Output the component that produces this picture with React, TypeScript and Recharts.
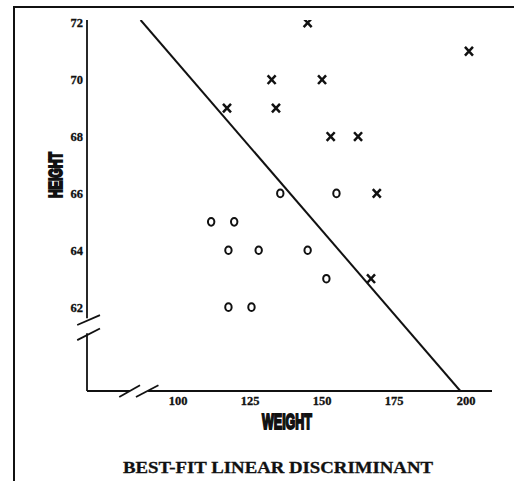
import {
  ScatterChart,
  Scatter,
  XAxis,
  YAxis,
  ReferenceLine,
} from "recharts";

// class "X" samples (weight, height)
const xClassWeight = [117, 145, 201, 132.5, 150, 134, 153, 162.5, 169, 167];
const xClassHeight = [69, 72, 71, 70, 70, 69, 68, 68, 66, 63];

// class "O" samples
const oClassWeight = [111.5, 119.5, 135.5, 155, 117.5, 128, 145, 151.5, 117.5, 125.5];
const oClassHeight = [65, 65, 66, 66, 64, 64, 64, 63, 62, 62];

// discriminant line end points
const boundaryWeight = [87, 198];
const boundaryHeight = [72.1, 59.05];

const weightTicks = [100, 125, 150, 175, 200];
const heightTicks = [62, 64, 66, 68, 70, 72];

const weightDomain = [68.4, 209];
const heightDomain = [59.05, 72.1];

const xPoints = xClassWeight.map((w, i) => ({ w, h: xClassHeight[i] }));
const oPoints = oClassWeight.map((w, i) => ({ w, h: oClassHeight[i] }));
const boundary = boundaryWeight.map((w, i) => ({ w, h: boundaryHeight[i] }));

const ink = "#111";
const tickStyle = {
  fill: ink,
  stroke: ink,
  strokeWidth: 0.3,
  fontSize: 12.5,
  fontWeight: 700,
  fontFamily: "Liberation Serif, serif",
};

function CrossMark(props: any) {
  const { cx, cy } = props;
  const rx = 4;
  const ry = 4.3;
  return (
    <path
      d={`M${cx - rx},${cy - ry}L${cx + rx},${cy + ry}M${cx + rx},${cy - ry}L${cx - rx},${cy + ry}`}
      stroke={ink}
      strokeWidth={2.5}
      fill="none"
    />
  );
}

function RingMark(props: any) {
  const { cx, cy } = props;
  return <ellipse cx={cx} cy={cy} rx={3.2} ry={3.8} stroke={ink} strokeWidth={2} fill="none" />;
}

const NoMark = () => <g />;

const seg = (x1: number, y1: number, x2: number, y2: number) => [
  { x: x1, y: y1 },
  { x: x2, y: y2 },
];

export default function App() {
  const [x0, x1] = weightDomain;
  const [y0, y1] = heightDomain;
  const line = { stroke: ink, strokeWidth: 1.8, ifOverflow: "visible" as const };

  return (
    <div style={{ position: "absolute", left: 0, top: 0, width: 514, height: 481, background: "#fff" }}>
      {/* page frame */}
      <div style={{ position: "absolute", left: 14, top: 6, width: 500, height: 2, background: ink }} />
      <div style={{ position: "absolute", left: 13, top: 6, width: 2, height: 475, background: ink }} />

      <ScatterChart
        width={514}
        height={481}
        margin={{ top: 20, right: 22, bottom: 60, left: 0 }}
        style={{ position: "absolute", left: 0, top: 0 }}
      >
        <XAxis
          type="number"
          dataKey="w"
          domain={weightDomain}
          ticks={weightTicks}
          allowDataOverflow
          axisLine={false}
          tickLine={false}
          tickSize={0}
          tickMargin={5}
          height={30}
          tick={tickStyle}
        />
        <YAxis
          type="number"
          dataKey="h"
          domain={heightDomain}
          ticks={heightTicks}
          allowDataOverflow
          axisLine={false}
          tickLine={false}
          tickSize={0}
          tickMargin={4}
          width={87}
          tick={tickStyle}
        />

        {/* y axis with break */}
        <ReferenceLine segment={seg(x0, y1, x0, 61.61)} {...line} />
        <ReferenceLine segment={seg(x0, 61.08, x0, y0)} {...line} />
        <ReferenceLine segment={seg(65.0, 61.37, 72.9, 61.72)} {...line} />
        <ReferenceLine segment={seg(65.0, 60.84, 72.9, 61.25)} {...line} />

        {/* x axis with break */}
        <ReferenceLine segment={seg(x0, y0, 83.3, y0)} {...line} />
        <ReferenceLine segment={seg(89.6, y0, x1, y0)} {...line} />
        <ReferenceLine segment={seg(79.6, 58.84, 86.8, 59.25)} {...line} />
        <ReferenceLine segment={seg(85.4, 58.84, 93.2, 59.25)} {...line} />

        <Scatter
          data={boundary}
          line={{ stroke: ink, strokeWidth: 2 }}
          shape={NoMark}
          isAnimationActive={false}
        />
        <Scatter data={xPoints} shape={CrossMark} isAnimationActive={false} />
        <Scatter data={oPoints} shape={RingMark} isAnimationActive={false} />
      </ScatterChart>

      <svg width={514} height={481} style={{ position: "absolute", left: 0, top: 0, pointerEvents: "none" }}>
        <text
          x={55}
          y={182}
          transform="rotate(-90 55 175)"
          textAnchor="middle"
          fontFamily="Liberation Sans, sans-serif"
          fontWeight={900}
          fontSize={18.5}
          stroke={ink}
          strokeWidth={2}
          fill={ink}
          textLength={46}
          lengthAdjust="spacingAndGlyphs"
        >
          HEIGHT
        </text>
        <text
          x={287}
          y={429}
          textAnchor="middle"
          fontFamily="Liberation Sans, sans-serif"
          fontWeight={900}
          fontSize={22}
          stroke={ink}
          strokeWidth={2}
          fill={ink}
          textLength={50}
          lengthAdjust="spacingAndGlyphs"
        >
          WEIGHT
        </text>
        <text
          x={278}
          y={473}
          textAnchor="middle"
          fontFamily="Liberation Serif, serif"
          fontWeight={700}
          fontSize={16}
          fill={ink}
          stroke={ink}
          strokeWidth={0.3}
          textLength={310}
          lengthAdjust="spacingAndGlyphs"
        >
          BEST-FIT LINEAR DISCRIMINANT
        </text>
      </svg>
    </div>
  );
}
